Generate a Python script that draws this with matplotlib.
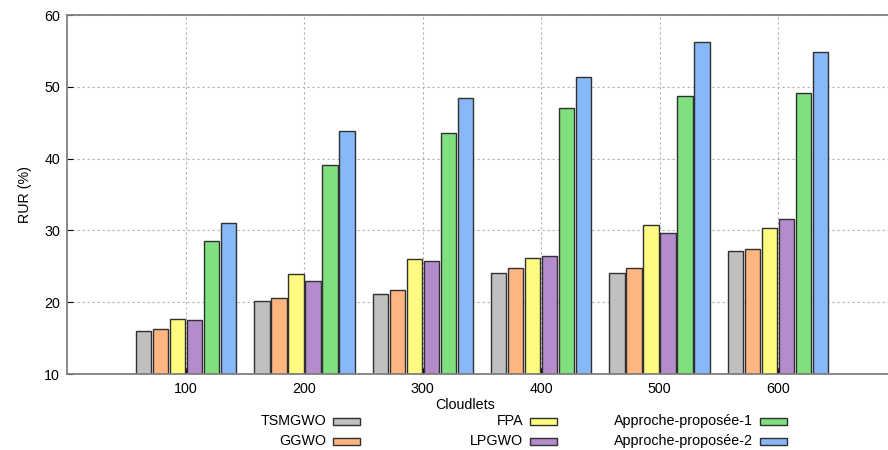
import matplotlib

matplotlib.use("Agg")
import matplotlib.pyplot as plt
import numpy as np
from matplotlib.patches import Rectangle

plt.rcParams["font.family"] = ["Liberation Sans", "DejaVu Sans"]
plt.rcParams["font.size"] = 10.3

cloudlets = ["100", "200", "300", "400", "500", "600"]
methods = ["TSMGWO", "GGWO", "FPA", "LPGWO", "Approche-proposée-1", "Approche-proposée-2"]
colors = ["#c0c0c0", "#ffb680", "#fffb80", "#b48ccb", "#80e080", "#88b8f8"]

tsmgwo = [16.0, 20.2, 21.1, 24.0, 24.0, 27.1]
ggwo = [16.3, 20.6, 21.7, 24.8, 24.7, 27.4]
fpa = [17.7, 23.9, 26.0, 26.2, 30.8, 30.3]
lpgwo = [17.5, 22.9, 25.7, 26.5, 29.7, 31.6]
ap1 = [28.5, 39.1, 43.6, 47.1, 48.7, 49.2]
ap2 = [31.0, 43.9, 48.4, 51.3, 56.2, 54.8]
values = [tsmgwo, ggwo, fpa, lpgwo, ap1, ap2]

W, H = 888, 450
fig = plt.figure(figsize=(W / 100, H / 100), dpi=100)
ax = fig.add_axes([67 / W, 1 - 374 / H, (W - 67) / W, (374 - 15) / H])

x = np.arange(len(cloudlets))
step = 0.1437
width = 0.13
for i, (name, vals, c) in enumerate(zip(methods, values, colors)):
    ax.bar(x + (i - 2.5) * step, np.array(vals) - 10, bottom=10, width=width,
           color=c, edgecolor="#303030", linewidth=1.0, zorder=2)

ax.set_xlim(-1.006, 5.93)
ax.set_ylim(10, 60)
ax.set_xticks(x)
ax.set_xticklabels(cloudlets)
ax.set_yticks([10, 20, 30, 40, 50, 60])
ax.tick_params(direction="in", length=4, color="black", labelsize=10.3, pad=5)
ax.tick_params(axis="x", pad=6)
ax.grid(True, linestyle=(0, (2, 2.5)), color="#b0b0b0", linewidth=0.8)
ax.set_axisbelow(True)
for side in ["left", "bottom", "top"]:
    ax.spines[side].set_color("#808080")
    ax.spines[side].set_linewidth(1.3)
ax.spines["right"].set_visible(False)

ax.set_ylabel("RUR (%)", labelpad=9)
ax.set_xlabel("Cloudlets")
ax.xaxis.set_label_coords((465 - 67) / (W - 67), -(398 - 374) / (374 - 15))

# gnuplot-style key below the plot: right-aligned text followed by sample
sample_right = [360, 557, 787]
row_y = [421, 441]
for i, (name, c) in enumerate(zip(methods, colors)):
    col, row = i // 2, i % 2
    xr = sample_right[col]
    y = row_y[row]
    fig.text((xr - 34) / W, 1 - y / H, name, ha="right", va="center")
    fig.add_artist(Rectangle(((xr - 27) / W, 1 - (y + 4) / H), 27 / W, 7 / H,
                             facecolor=c, edgecolor="#303030", linewidth=1.0,
                             transform=fig.transFigure))

fig.savefig("out.png", dpi=100)
